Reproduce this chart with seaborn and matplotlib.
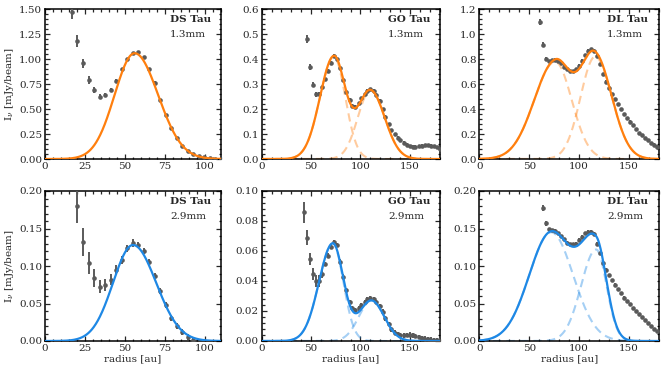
import numpy as np
import pandas as pd
import matplotlib
matplotlib.use("Agg")
import matplotlib.pyplot as plt
from matplotlib.ticker import AutoMinorLocator, MultipleLocator
import seaborn as sns

# ---------------- data ----------------
# DS Tau 1.3mm
ds13_r = [16.8, 20.2, 23.7, 27.2, 30.6, 34.1, 37.5, 41.0, 44.4, 47.9, 51.3, 54.8, 58.2, 61.7,
          65.1, 68.6, 72.0, 75.5, 78.9, 82.4, 85.8, 89.3, 92.7, 96.2, 99.6, 103.1, 106.5, 110.0]
ds13_I = [1.47, 1.18, 0.96, 0.79, 0.69, 0.625, 0.64, 0.69, 0.785, 0.90, 1.00, 1.06, 1.07, 1.02,
          0.90, 0.765, 0.59, 0.44, 0.31, 0.21, 0.135, 0.083, 0.05, 0.03, 0.017, 0.01, 0.004, 0.0]
ds13_e = [0.07, 0.06, 0.045, 0.04, 0.03, 0.025, 0.02, 0.02, 0.015, 0.015, 0.015, 0.015, 0.015, 0.015,
          0.012, 0.012, 0.012, 0.012, 0.01, 0.01, 0.01, 0.008, 0.008, 0.008, 0.006, 0.006, 0.006, 0.006]
ds13_ring = [56.0, 1.06, 12.5, 14.7]          # centre, peak, sigma_in, sigma_out

# DS Tau 2.9mm
ds29_r = [20.2, 23.7, 27.2, 30.6, 34.1, 37.5, 41.0, 44.4, 47.9, 51.3, 54.8, 58.2, 61.7, 65.1,
          68.6, 72.0, 75.5, 78.9, 82.4, 85.8, 89.3, 92.7]
ds29_I = [0.180, 0.132, 0.104, 0.084, 0.0725, 0.0745, 0.082, 0.095, 0.108, 0.1235, 0.1305, 0.128,
          0.120, 0.105, 0.0865, 0.067, 0.048, 0.031, 0.020, 0.0115, 0.006, 0.002]
ds29_e = [0.022, 0.019, 0.015, 0.012, 0.009, 0.008, 0.007, 0.006, 0.005, 0.005, 0.005, 0.004,
          0.004, 0.004, 0.004, 0.004, 0.004, 0.004, 0.004, 0.004, 0.004, 0.004]
ds29_ring = [55.0, 0.128, 12.5, 14.5]

# GO Tau 1.3mm
go13_r = [46.3, 49.3, 52.4, 55.4, 58.4, 61.5, 64.5, 67.6, 70.6, 73.6, 76.7, 79.7, 82.8, 85.8, 88.9,
          91.9, 94.9, 98.0, 101.0, 104.1, 107.1, 110.1, 113.2, 116.2, 119.3, 122.3, 125.3, 128.4,
          131.4, 134.5, 137.5, 140.5, 143.6, 146.6, 149.7, 152.7, 155.7, 158.8, 161.8, 164.9, 167.9,
          170.9, 174.0, 177.0, 180.0]
go13_I = [0.481, 0.370, 0.297, 0.259, 0.259, 0.287, 0.320, 0.354, 0.386, 0.413, 0.400, 0.364, 0.317,
          0.270, 0.237, 0.213, 0.210, 0.223, 0.243, 0.260, 0.274, 0.279, 0.274, 0.258, 0.234, 0.200,
          0.170, 0.140, 0.116, 0.099, 0.086, 0.076, 0.066, 0.057, 0.052, 0.049, 0.049, 0.051, 0.053,
          0.055, 0.055, 0.053, 0.052, 0.048, 0.041]
go13_e = [0.015, 0.012, 0.010, 0.010, 0.008] + [0.006] * 40
go13_ring1 = [73.0, 0.41, 14.0, 11.6]
go13_ring2 = [110.0, 0.275, 12.7, 14.5]

# GO Tau 2.9mm
go29_r = [43.2] + go13_r
go29_I = [0.0858, 0.0690, 0.0545, 0.0444, 0.0400, 0.0400, 0.0450, 0.0515, 0.057, 0.063, 0.066, 0.064,
          0.053, 0.043, 0.034, 0.026, 0.0218, 0.0207, 0.0218, 0.024, 0.026, 0.0278, 0.0284, 0.028,
          0.026, 0.0233, 0.0196, 0.0151, 0.0113, 0.0078, 0.0056, 0.0044, 0.0038, 0.0038, 0.004,
          0.0042, 0.0038, 0.0033, 0.0027, 0.002, 0.0016, 0.0013, 0.0009, 0.0007, 0.0004, 0.0002]
go29_e = [0.007, 0.005, 0.004, 0.004, 0.004, 0.004, 0.003] + [0.0015] * 39
go29_ring1 = [72.0, 0.065, 14.0, 10.7]
go29_ring2 = [111.0, 0.027, 12.6, 13.0]

# DL Tau 1.3mm
dl13_r = [61, 64, 67, 70, 73, 76, 79, 82, 85, 88, 91, 94, 97, 100, 103, 106, 109, 112, 115, 118,
          121, 124, 127, 130, 133, 136, 139, 142, 145, 148, 151, 154, 157, 160, 163, 166, 169, 172,
          175, 178]
dl13_I = [1.10, 0.914, 0.80, 0.785, 0.79, 0.797, 0.789, 0.768, 0.741, 0.72, 0.707, 0.707, 0.72,
          0.749, 0.789, 0.834, 0.868, 0.879, 0.868, 0.828, 0.76, 0.68, 0.62, 0.57, 0.52, 0.48,
          0.44, 0.40, 0.36, 0.33, 0.30, 0.27, 0.24, 0.21, 0.19, 0.17, 0.15, 0.13, 0.115, 0.10]
dl13_e = [0.025, 0.02, 0.015] + [0.01] * 37
dl13_ring1 = [76.0, 0.78, 21.0, 16.6]
dl13_ring2 = [116.0, 0.82, 14.6, 16.8]

# DL Tau 2.9mm
dl29_r = dl13_r[1:]
dl29_I = [0.177, 0.157, 0.149, 0.148, 0.147, 0.144, 0.140, 0.1356, 0.131, 0.129, 0.129, 0.130,
          0.1347, 0.139, 0.1436, 0.1458, 0.1458, 0.1427, 0.130, 0.117, 0.104, 0.095, 0.088, 0.081,
          0.075, 0.069, 0.064, 0.058, 0.053, 0.049, 0.044, 0.040, 0.036, 0.032, 0.028, 0.024,
          0.020, 0.016, 0.013]
dl29_e = [0.004, 0.003] + [0.002] * 37
dl29_ring1 = [72.0, 0.145, 22.0, 22.0]
dl29_ring2 = [117.0, 0.122, 15.0, 10.5]

names = ["DS Tau", "GO Tau", "DL Tau"]
bands = ["1.3mm", "2.9mm"]
xmax = [110, 180, 180]
ymax = [[1.5, 0.6, 1.2], [0.2, 0.1, 0.2]]
ystep = [[0.25, 0.1, 0.2], [0.05, 0.02, 0.05]]
yfmt = [["%.2f", "%.1f", "%.1f"], ["%.2f", "%.2f", "%.2f"]]
xstep = [25, 50, 50]

# ---------------- style ----------------
sns.set_theme(style="ticks")
plt.rcParams["font.family"] = ["DejaVu Serif"]
plt.rcParams["mathtext.fontset"] = "dejavuserif"
plt.rcParams["xtick.direction"] = "in"
plt.rcParams["ytick.direction"] = "in"

ORANGE = "#ff7f0e"
BLUE = "#1e88e5"
GREY = "#5a5a5a"
FS = 7.5

fig = plt.figure(figsize=(6.65, 3.72), dpi=100)
W, H = 665.0, 372.0
col_px = [(45.0, 176.0), (261.7, 177.8), (479.3, 179.7)]
row_px = [(9.3, 149.7), (191.0, 150.0)]

panels = [
    [(ds13_r, ds13_I, ds13_e, [ds13_ring]),
     (go13_r, go13_I, go13_e, [go13_ring1, go13_ring2]),
     (dl13_r, dl13_I, dl13_e, [dl13_ring1, dl13_ring2])],
    [(ds29_r, ds29_I, ds29_e, [ds29_ring]),
     (go29_r, go29_I, go29_e, [go29_ring1, go29_ring2]),
     (dl29_r, dl29_I, dl29_e, [dl29_ring1, dl29_ring2])],
]


def ring(r, p):
    c, a, s_in, s_out = p
    s = np.where(r < c, s_in, s_out)
    return a * np.exp(-0.5 * ((r - c) / s) ** 2)


for i in range(2):
    color = ORANGE if i == 0 else BLUE
    for j in range(3):
        x0, w = col_px[j]
        y0, h = row_px[i]
        ax = fig.add_axes([x0 / W, 1 - (y0 + h) / H, w / W, h / H])
        r, I, e, rings = panels[i][j]
        grid = np.linspace(0, xmax[j], 600)
        comps = [ring(grid, p) for p in rings]
        total = np.sum(comps, axis=0)

        if len(rings) > 1:
            for comp in comps:
                sns.lineplot(x=grid, y=comp, ax=ax, color=color, alpha=0.4, lw=1.5,
                             linestyle=(0, (4, 2.5)), sort=False, zorder=2)
        df = pd.DataFrame({"r": r, "I": I, "e": e})
        ax.errorbar(df["r"], df["I"], yerr=df["e"], fmt="none", ecolor=GREY,
                    elinewidth=1.4, capsize=0, zorder=3)
        sns.scatterplot(data=df, x="r", y="I", ax=ax, color=GREY, s=11,
                        edgecolor=GREY, linewidth=0, zorder=4)
        sns.lineplot(x=grid, y=total, ax=ax, color=color, lw=1.6, sort=False, zorder=5)

        ax.set_xlim(0, xmax[j])
        ax.set_ylim(0, ymax[i][j])
        ax.xaxis.set_major_locator(MultipleLocator(xstep[j]))
        ax.yaxis.set_major_locator(MultipleLocator(ystep[i][j]))
        ax.xaxis.set_minor_locator(AutoMinorLocator(5))
        ax.yaxis.set_minor_locator(AutoMinorLocator(5))
        ax.yaxis.set_major_formatter(matplotlib.ticker.FormatStrFormatter(yfmt[i][j]))
        ax.tick_params(which="both", top=True, right=True, direction="in",
                       labelsize=FS, width=0.9, pad=2)
        ax.tick_params(which="major", length=3.5)
        ax.tick_params(which="minor", length=1.8)
        for sp in ax.spines.values():
            sp.set_linewidth(1.1)
            sp.set_color("black")
        ax.set_xlabel("radius [au]" if i == 1 else "", fontsize=FS, labelpad=1)
        ax.set_ylabel(r"I$_\nu$ [mJy/beam]" if j == 0 else "", fontsize=FS, labelpad=2)
        ax.text(0.71, 0.93, names[j], transform=ax.transAxes, fontsize=FS,
                fontweight="bold", ha="left", va="center")
        ax.text(0.71, 0.83, bands[i], transform=ax.transAxes, fontsize=FS,
                ha="left", va="center")

fig.savefig("out.png", dpi=100)
